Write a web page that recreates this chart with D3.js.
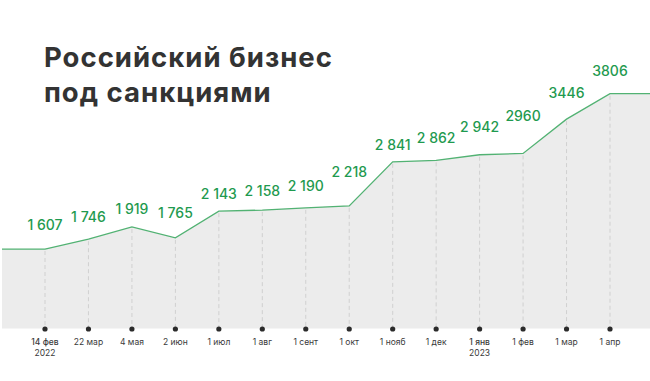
<!DOCTYPE html>
<html><head><meta charset="utf-8">
<script src="https://cdn.jsdelivr.net/npm/d3@7"></script>
<style>html,body{margin:0;padding:0;background:#fff;}svg{display:block;}</style>
</head><body>
<svg id="c" width="650" height="381"></svg>
<script>
const dates = ["14 фев","22 мар","4 мая","2 июн","1 июл","1 авг","1 сент","1 окт","1 нояб","1 дек","1 янв","1 фев","1 мар","1 апр"];
const years = ["2022","","","","","","","","","","2023","","",""];
const values = [1607,1746,1919,1765,2143,2158,2190,2218,2841,2862,2942,2960,3446,3806];
const valueLabels = ["1 607","1 746","1 919","1 765","2 143","2 158","2 190","2 218","2 841","2 862","2 942","2960","3446","3806"];
const labelLift = [19,17,13,20,12,14,17,29,12,17,22.5,32,21,18];
const titleLines = ["Российский бизнес","под санкциями"];

const svg = d3.select("#c");
const x = d3.scalePoint().domain(d3.range(dates.length)).range([45, 610]);
const y = d3.scaleLinear().domain([482, 3806]).range([328.5, 93.7]);

const pts = [{x:2, v:values[0]}]
  .concat(values.map((v,i)=>({x:x(i), v})))
  .concat([{x:650, v:values[values.length-1]}]);

svg.append("path")
  .attr("d", d3.area().x(d=>d.x).y0(y(482)).y1(d=>y(d.v))(pts))
  .attr("fill", "#ececec");

svg.selectAll(".grid").data(values).join("line")
  .attr("x1",(d,i)=>x(i)).attr("x2",(d,i)=>x(i))
  .attr("y1",d=>y(d)+2).attr("y2",y(482))
  .attr("stroke","#d0d0d0").attr("stroke-width",1).attr("stroke-dasharray","4,3");

svg.append("path")
  .attr("d", d3.line().x(d=>d.x).y(d=>y(d.v))(pts))
  .attr("fill","none").attr("stroke","#52b273").attr("stroke-width",1.3);

svg.selectAll(".dot").data(values).join("circle")
  .attr("cx",(d,i)=>x(i)).attr("cy",y(482)+0.5).attr("r",2.6).attr("fill","#2b2b2b");

svg.selectAll(".vl").data(values).join("text")
  .attr("x",(d,i)=>x(i)).attr("y",(d,i)=>y(d)-labelLift[i])
  .attr("text-anchor","middle")
  .attr("font-family","Inter, sans-serif").attr("font-weight",500)
  .attr("font-size",14).attr("fill","#1f9a4f")
  .text((d,i)=>valueLabels[i]);

svg.selectAll(".tl").data(dates).join("text")
  .attr("x",(d,i)=>x(i)).attr("y",345)
  .attr("text-anchor","middle")
  .attr("font-family","Inter, sans-serif").attr("font-size",8.5)
  .attr("font-weight",(d,i)=>years[i]? 500:400)
  .attr("fill","#3a3a3a").text(d=>d);
svg.selectAll(".yl").data(years).join("text")
  .attr("x",(d,i)=>x(i)).attr("y",356)
  .attr("text-anchor","middle")
  .attr("font-family","Inter, sans-serif").attr("font-size",8.5)
  .attr("fill","#3a3a3a").text(d=>d);

svg.selectAll(".title").data(titleLines).join("text")
  .attr("x",44).attr("y",(d,i)=>67+i*35)
  .attr("font-family","Inter, sans-serif").attr("font-weight",700)
  .attr("font-size",27.5).attr("letter-spacing",1.0).attr("fill","#333").text(d=>d);
</script>
</body></html>
